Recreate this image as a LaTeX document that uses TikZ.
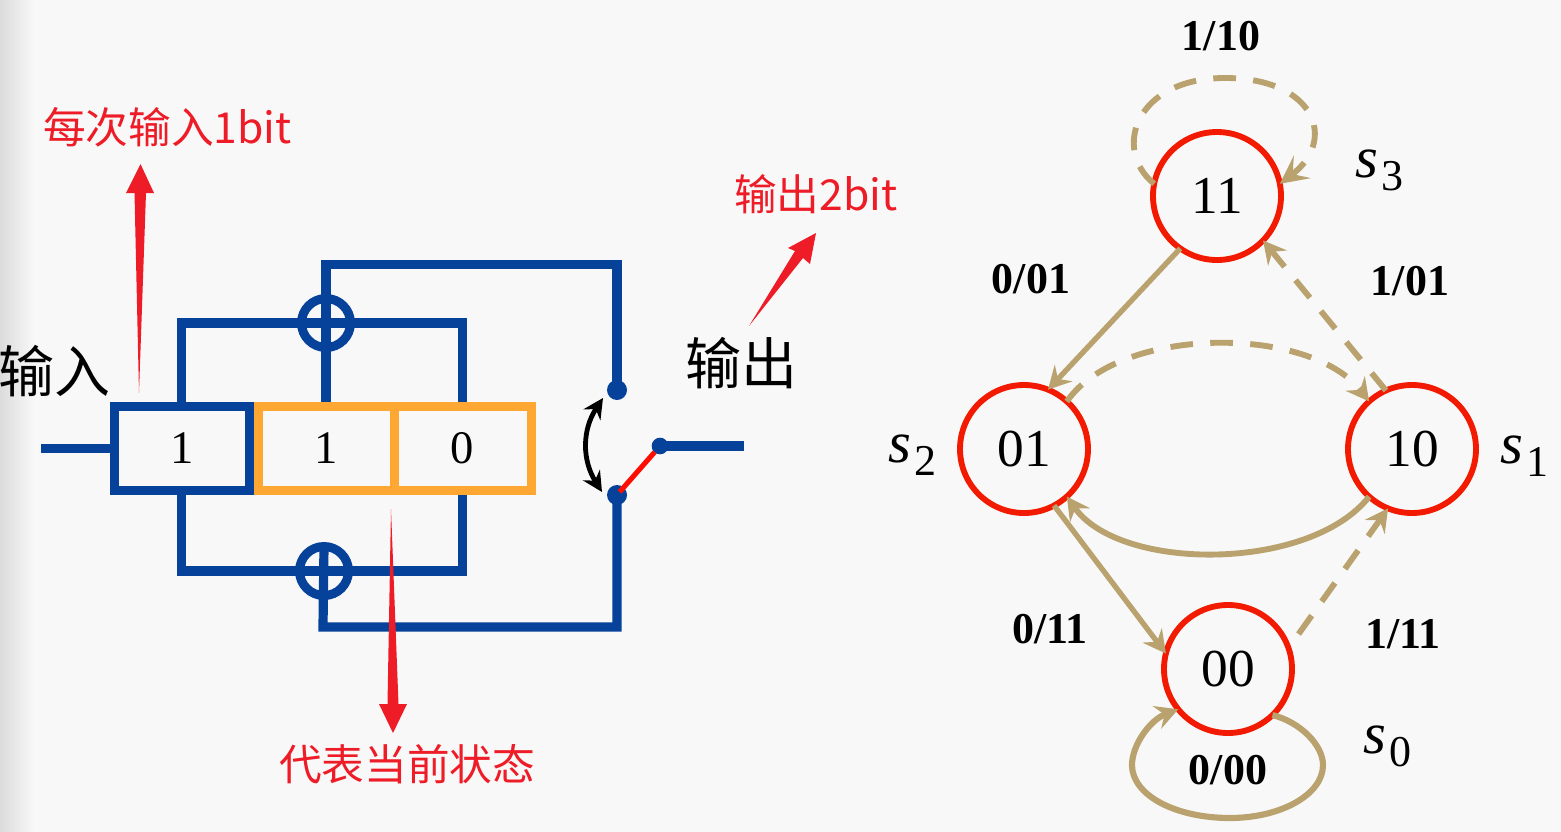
\documentclass[tikz,border=0pt]{standalone}
\usepackage{fontspec}
\setmainfont{Liberation Serif}
\newfontfamily\cjk{Noto Sans CJK SC}
\usetikzlibrary{arrows.meta,calc}
\definecolor{wire}{HTML}{064299}
\definecolor{reg}{HTML}{FFA733}
\definecolor{ann}{HTML}{EE1C27}
\definecolor{tan}{HTML}{B9A26E}
\definecolor{ring}{HTML}{F21A00}
\definecolor{bg}{HTML}{F8F8F8}
\newcommand{\fs}[1]{\fontsize{#1pt}{#1pt}\selectfont}
\newcommand{\sname}[1]{\textit{s}\kern2.5pt\raisebox{-9.75pt}{\fs{33}#1}}
\pgfdeclarelayer{paper}
\pgfdeclarelayer{wires}
\pgfsetlayers{paper,wires,main}
\tikzset{
  x=0.75pt,y=-0.75pt,
  wireline/.style={draw=wire,line width=6.9pt,line cap=butt,line join=miter},
  cellbox/.style={draw=#1,line width=6.75pt,minimum height=63pt,outer sep=0pt,inner sep=0pt,font=\fs{35}},
  xorgate/.style={circle,draw=wire,line width=6.75pt,minimum size=36.75pt,outer sep=0pt,inner sep=0pt},
  contact/.style={circle,fill=wire,inner sep=0pt,outer sep=0pt,minimum size=#1},
  state/.style={circle,draw=ring,line width=4.4pt,minimum size=96pt,outer sep=0pt,inner sep=0pt,fill=none,font=\fs{40}},
  tsolid/.style={draw=tan,line width=4pt,-{Stealth[length=17pt,width=18pt,inset=6pt]}},
  tdash/.style={tsolid,line width=4.4pt,dash pattern=on 17pt off 13pt},
  edgelabel/.style={font=\bfseries\fs{33},inner sep=0pt},
  namelabel/.style={font=\fs{44},inner sep=0pt,anchor=base west},
  redtext/.style={text=ann,font=\cjk\fs{32},inner sep=0pt},
  blacktext/.style={text=black,font=\cjk\fs{42},inner sep=0pt},
  redarrow/.style={fill=ann,draw=none}
}
\begin{document}
\begin{tikzpicture}
\useasboundingbox (0,0) rectangle (1561,832);
\begin{pgfonlayer}{paper}
\fill[bg] (0,0) rectangle (1561,832);
\shade[left color=black!14,right color=bg,shading angle=90,draw=none] (0,0) rectangle (34,832);
\end{pgfonlayer}

% registers
\node[cellbox=reg,minimum width=102pt] (r1) at (326,448.5) {1};
\node[cellbox=reg,minimum width=102.75pt] (r2) at (462.5,448.5) {0};
\node[cellbox=wire,minimum width=101.6pt] (in) at (181.75,448.5) {1};

% xor gates and contacts
\node[xorgate] (xt) at (326,323) {};
\node[xorgate] (xb) at (324,571) {};
\node[contact=15pt] (dtop) at (617,390) {};
\node[contact=15pt] (dbot) at (617,495) {};
\node[contact=12.5pt] (dout) at (660,446) {};

\coordinate (instart) at (41,448.5);
\coordinate (outend) at (744,446);
\coordinate (tcorner) at (326,264.5);
\coordinate (bcorner) at (323,627);

% wires
\begin{pgfonlayer}{wires}
\draw[wireline] (instart) -- (in.west);
\draw[wireline] (in.north) |- (xt.west);
\draw[wireline] (r2.north) |- (xt.east);
\draw[wireline] (in.south) |- (xb.west);
\draw[wireline] (r2.south) |- (xb.east);
\draw[wireline] (xt.west) -- (xt.east);
\draw[wireline] (xb.west) -- (xb.east);
\draw[wireline] (r1.north) -- (xt.south);
\draw[wireline] (xt.south) -- (tcorner) -| (dtop.center);
\draw[wireline] (xb.north) -- (bcorner) -| (dbot.center);
\draw[wireline] (dout.center) -- (outend);
\end{pgfonlayer}
\draw[draw=red!90!orange,line width=3.8pt,shorten <=6pt,shorten >=3pt] (dout.center) -- (dbot.center);

% switch arrow
\coordinate (swa) at (602,492);
\coordinate (swb) at (603,398);
\draw[black,line width=3.6pt,{Stealth[length=15pt,width=15pt,inset=5pt]}-{Stealth[length=15pt,width=15pt,inset=5pt]}] (swa) .. controls (582,460) and (582,430) .. (swb);

% black labels
\node[blacktext] (linp) at (54,371) {输入};
\node[blacktext] (lout) at (741,363) {输出};

% red annotations
\node[redtext,anchor=west] (a1) at (43,127) {每次输入1bit};
\node[redtext,anchor=west] (a2) at (734,194) {输出2bit};
\node[redtext] (a3) at (407,764) {代表当前状态};
\fill[redarrow] (139,393) -- (146,193) -- (154,193) -- (140.5,164) -- (126,193) -- (134.5,193) -- cycle;
\fill[redarrow] (391,509) -- (398.5,704) -- (407,704) -- (393,733) -- (379,704) -- (387.5,704) -- cycle;
\fill[redarrow] (749,326) -- (803,258) -- (810,264) -- (816,233) -- (788,248) -- (795,251) -- cycle;

% states
\node[state] (s3) at (1217,196) {11};
\node[state] (s2) at (1024,449) {01};
\node[state] (s1) at (1412,449) {10};
\node[state] (s0) at (1228,669) {00};

% transitions
\draw[tsolid] (s3.235) -- (s2.68);
\draw[tdash] (s1.114) -- (s3.-44);
\draw[tdash] (s2.48) .. controls (1120,325) and (1310,325) .. (s1.132);
\draw[tsolid,line width=4.4pt] (s1.-132) .. controls (1310,572) and (1120,572) .. (s2.-48);
\draw[tsolid] (s2.-62) -- (s0.166);
\draw[tdash,dash phase=17pt] (s0.19) -- (s1.-112);
\draw[tdash,-{Stealth[length=21pt,width=21pt,inset=9pt]}] (s3.169) .. controls (1112,150) and (1135,78) .. (1225,78) .. controls (1315,78) and (1338,140) .. (s3.11);
\draw[tsolid,line width=4.6pt] (s0.-46) .. controls (1300,722) and (1323,745) .. (1323,765) .. controls (1323,795) and (1280,818) .. (1230,818) .. controls (1175,818) and (1132,795) .. (1132,765) .. controls (1132,745) and (1150,720) .. (s0.-141);

% edge labels
\node[edgelabel] (e1) at (1221,36) {1/10};
\node[edgelabel] (e2) at (1031,279) {0/01};
\node[edgelabel] (e3) at (1410,281) {1/01};
\node[edgelabel] (e4) at (1050,629) {0/11};
\node[edgelabel] (e5) at (1403,634) {1/11};
\node[edgelabel] (e6) at (1228,770) {0/00};

% state names
\node[namelabel] (n3) at (1355,177) {\sname{3}};
\node[namelabel] (n2) at (888,462) {\sname{2}};
\node[namelabel] (n1) at (1500,463) {\sname{1}};
\node[namelabel] (n0) at (1363,753) {\sname{0}};
\end{tikzpicture}
\end{document}
